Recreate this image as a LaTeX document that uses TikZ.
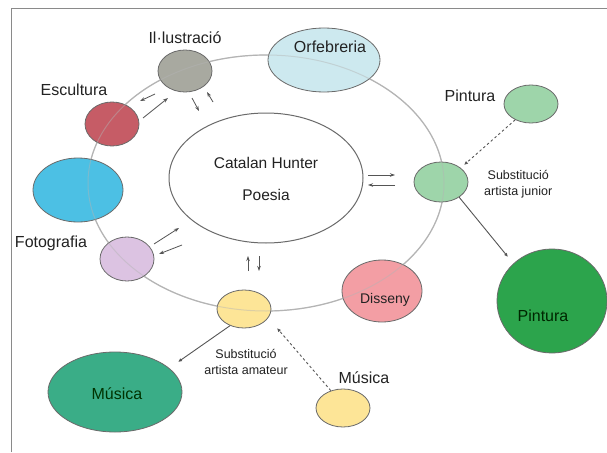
\documentclass[tikz,border=0pt]{standalone}
\usepackage{fontspec}
\setmainfont{Liberation Sans}
\usetikzlibrary{shapes.geometric,arrows.meta}
\definecolor{framec}{HTML}{8A8A8A}
\definecolor{ringc}{HTML}{B4B4B4}
\definecolor{edgec}{HTML}{6A6A6A}
\definecolor{txtc}{HTML}{222222}
\definecolor{arrc}{HTML}{555555}
\definecolor{cGray}{HTML}{A8A9A0}
\definecolor{cRed}{HTML}{C65C66}
\definecolor{cBlue}{HTML}{4CC0E4}
\definecolor{cOrf}{HTML}{CDE9EF}
\definecolor{cLGreen}{HTML}{9ED5AA}
\definecolor{cBig}{HTML}{2CA44C}
\definecolor{cPink}{HTML}{F39EA4}
\definecolor{cLav}{HTML}{DCC3E2}
\definecolor{cYel}{HTML}{FDE597}
\definecolor{cTeal}{HTML}{3AAD87}
\begin{document}
\begin{tikzpicture}[x=1pt,y=-1pt,
  blob/.style={ellipse, draw=edgec, line width=0.8pt, inner sep=0pt},
  lbl/.style={font=\fontsize{16}{18}\selectfont, text=txtc, inner sep=0pt},
  smalllbl/.style={font=\fontsize{12.5}{16}\selectfont, text=txtc, align=center, inner sep=0pt},
  pair/.style={-{Stealth[length=5pt,width=3.5pt]}, line width=0.8pt, draw=arrc},
  link/.style={-{Latex[length=4pt,width=3.5pt]}, line width=0.9pt, draw=arrc},
  dlink/.style={link, dash pattern=on 2.5pt off 2.5pt}]
\useasboundingbox (0,0) rectangle (607,452);
\fill[white] (0,0) rectangle (607,452);
\draw[framec, line width=1pt] (11,452) -- (11,9) -- (607,9);

% ring
\node[ellipse, draw=ringc, line width=1.2pt, minimum width=356, minimum height=256, inner sep=0pt] (ring) at (266,183) {};

% central
\node[ellipse, draw=edgec, line width=1pt, fill=white, minimum width=194, minimum height=130, inner sep=0pt] (cat) at (266,178) {};
\node[lbl, font=\fontsize{15.5}{18}\selectfont] (catT) at (266,163) {Catalan Hunter};
\node[lbl, font=\fontsize{15.5}{18}\selectfont] (catP) at (266,195) {Poesia};

% ellipses on the ring
\node[blob, fill=cGray, minimum width=54, minimum height=42] (ill) at (185,71) {};
\node[lbl] (illL) at (185,38) {Il·lustració};
\node[blob, fill=cRed, minimum width=54, minimum height=44] (esc) at (112,124) {};
\node[lbl] (escL) at (74,90) {Escultura};
\node[blob, fill=cBlue, minimum width=90, minimum height=64] (blue) at (78,190) {};
\node[blob, fill=cOrf, minimum width=112, minimum height=64] (orf) at (324,60) {};
\node[blob, fill=cLGreen, minimum width=54, minimum height=40] (jun) at (441,182) {};
\node[blob, fill=cPink, minimum width=80, minimum height=62] (dis) at (382,291) {};
\node[blob, fill=cYel, minimum width=54, minimum height=38] (yel) at (244,309) {};
\node[blob, fill=cLav, minimum width=54, minimum height=44] (fot) at (127,259) {};

% ring showing faintly through the ellipses
\draw[ringc, line width=1pt, opacity=0.45] (ring.center) ellipse [x radius=178, y radius=128];

\node[lbl] (orfL) at (330,47) {Orfebreria};
\node[smalllbl, anchor=west] (junL) at (484,184) {Substitució\\artista junior};
\node[lbl, font=\fontsize{14}{16}\selectfont] (disL) at (385,300) {Disseny};
\node[smalllbl] (yelL) at (246,362) {Substitució\\artista amateur};
\node[lbl] (fotL) at (51,243) {Fotografia};

% outer ellipses
\node[blob, fill=cLGreen, minimum width=54, minimum height=38] (pinS) at (531,104) {};
\node[lbl] (pinSL) at (470,96) {Pintura};
\node[blob, fill=cBig, minimum width=110, minimum height=104] (pinB) at (552,301) {};
\node[lbl, text=black!85!green] (pinBL) at (543,316) {Pintura};
\node[blob, fill=cTeal, minimum width=134, minimum height=80] (musB) at (115,392) {};
\node[lbl, text=black!80!green] (musBL) at (117,394) {Música};
\node[blob, fill=cYel, minimum width=54, minimum height=38] (musS) at (343,408) {};
\node[lbl] (musSL) at (364,378) {Música};

% free arrow end points
\coordinate (a1s) at (155,94);  \coordinate (a1e) at (140,101);
\coordinate (a2s) at (143,118); \coordinate (a2e) at (168,98);
\coordinate (a3s) at (192,98);  \coordinate (a3e) at (199,111);
\coordinate (a4s) at (213,102); \coordinate (a4e) at (207,92);
\coordinate (a5s) at (368,175); \coordinate (a5e) at (395,175);
\coordinate (a6s) at (395,185); \coordinate (a6e) at (368,185);
\coordinate (a7s) at (154,244); \coordinate (a7e) at (179,228);
\coordinate (a8s) at (182,245); \coordinate (a8e) at (159,254);
\coordinate (a9s) at (248,271); \coordinate (a9e) at (248,256);
\coordinate (a10s) at (259,256); \coordinate (a10e) at (259,271);
\coordinate (e1) at (508,257);
\coordinate (e2) at (464,165);
\coordinate (e3) at (178,362);
\coordinate (e4) at (277,328);

\draw[pair] (a1s) -- (a1e);
\draw[pair] (a2s) -- (a2e);
\draw[pair] (a3s) -- (a3e);
\draw[pair] (a4s) -- (a4e);
\draw[pair] (a5s) -- (a5e);
\draw[pair] (a6s) -- (a6e);
\draw[pair] (a7s) -- (a7e);
\draw[pair] (a8s) -- (a8e);
\draw[pair] (a9s) -- (a9e);
\draw[pair] (a10s) -- (a10e);

\draw[link] (jun.-40) -- (e1);
\draw[dlink] (pinS.225) -- (e2);
\draw[link] (yel.230) -- (e3);
\draw[dlink] (musS.125) -- (e4);
\end{tikzpicture}
\end{document}
